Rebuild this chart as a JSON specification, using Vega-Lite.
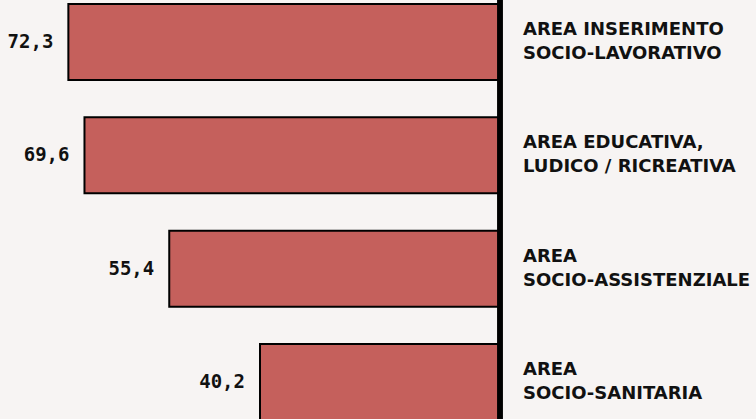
{
  "$schema": "https://vega.github.io/schema/vega-lite/v6.json",
  "width": 500,
  "height": 424,
  "padding": {"left": 0, "top": 0, "right": 256, "bottom": 0},
  "autosize": {"type": "none"},
  "background": "#f7f4f3",
  "config": {"view": {"stroke": null}},
  "data": {
    "values": [
      {"cat": "AREA INSERIMENTO\nSOCIO-LAVORATIVO", "value": 72.3, "label": "72,3"},
      {"cat": "AREA EDUCATIVA,\nLUDICO / RICREATIVA", "value": 69.6, "label": "69,6"},
      {"cat": "AREA\nSOCIO-ASSISTENZIALE", "value": 55.4, "label": "55,4"},
      {"cat": "AREA\nSOCIO-SANITARIA", "value": 40.2, "label": "40,2"}
    ]
  },
  "layer": [
    {
      "mark": {"type": "bar", "fill": "#c5605c", "stroke": "#000000", "strokeWidth": 2},
      "encoding": {
        "y": {"field": "cat", "type": "nominal", "sort": null, "scale": {"paddingInner": 0.329, "paddingOuter": 0.035}, "axis": null},
        "x": {"field": "value", "type": "quantitative", "scale": {"domain": [0, 83.75], "reverse": true, "nice": false, "zero": true}, "axis": null}
      }
    },
    {
      "mark": {"type": "text", "align": "right", "baseline": "middle", "dx": -15, "font": "DejaVu Sans Mono", "fontWeight": "bold", "fontSize": 19, "color": "#111111"},
      "encoding": {
        "y": {"field": "cat", "type": "nominal", "sort": null, "axis": null},
        "x": {"field": "value", "type": "quantitative", "axis": null},
        "text": {"field": "label"}
      }
    },
    {
      "mark": {"type": "text", "align": "left", "baseline": "middle", "dx": 23, "dy": -12, "lineBreak": "\n", "lineHeight": 24, "font": "DejaVu Sans", "fontWeight": "bold", "fontSize": 18, "color": "#111111"},
      "encoding": {
        "y": {"field": "cat", "type": "nominal", "sort": null, "axis": null},
        "x": {"datum": 0, "type": "quantitative", "axis": null},
        "text": {"field": "cat"}
      }
    },
    {
      "mark": {"type": "rule", "stroke": "#000000", "strokeWidth": 5},
      "encoding": {
        "x": {"datum": 0, "type": "quantitative", "axis": null}
      }
    }
  ]
}
